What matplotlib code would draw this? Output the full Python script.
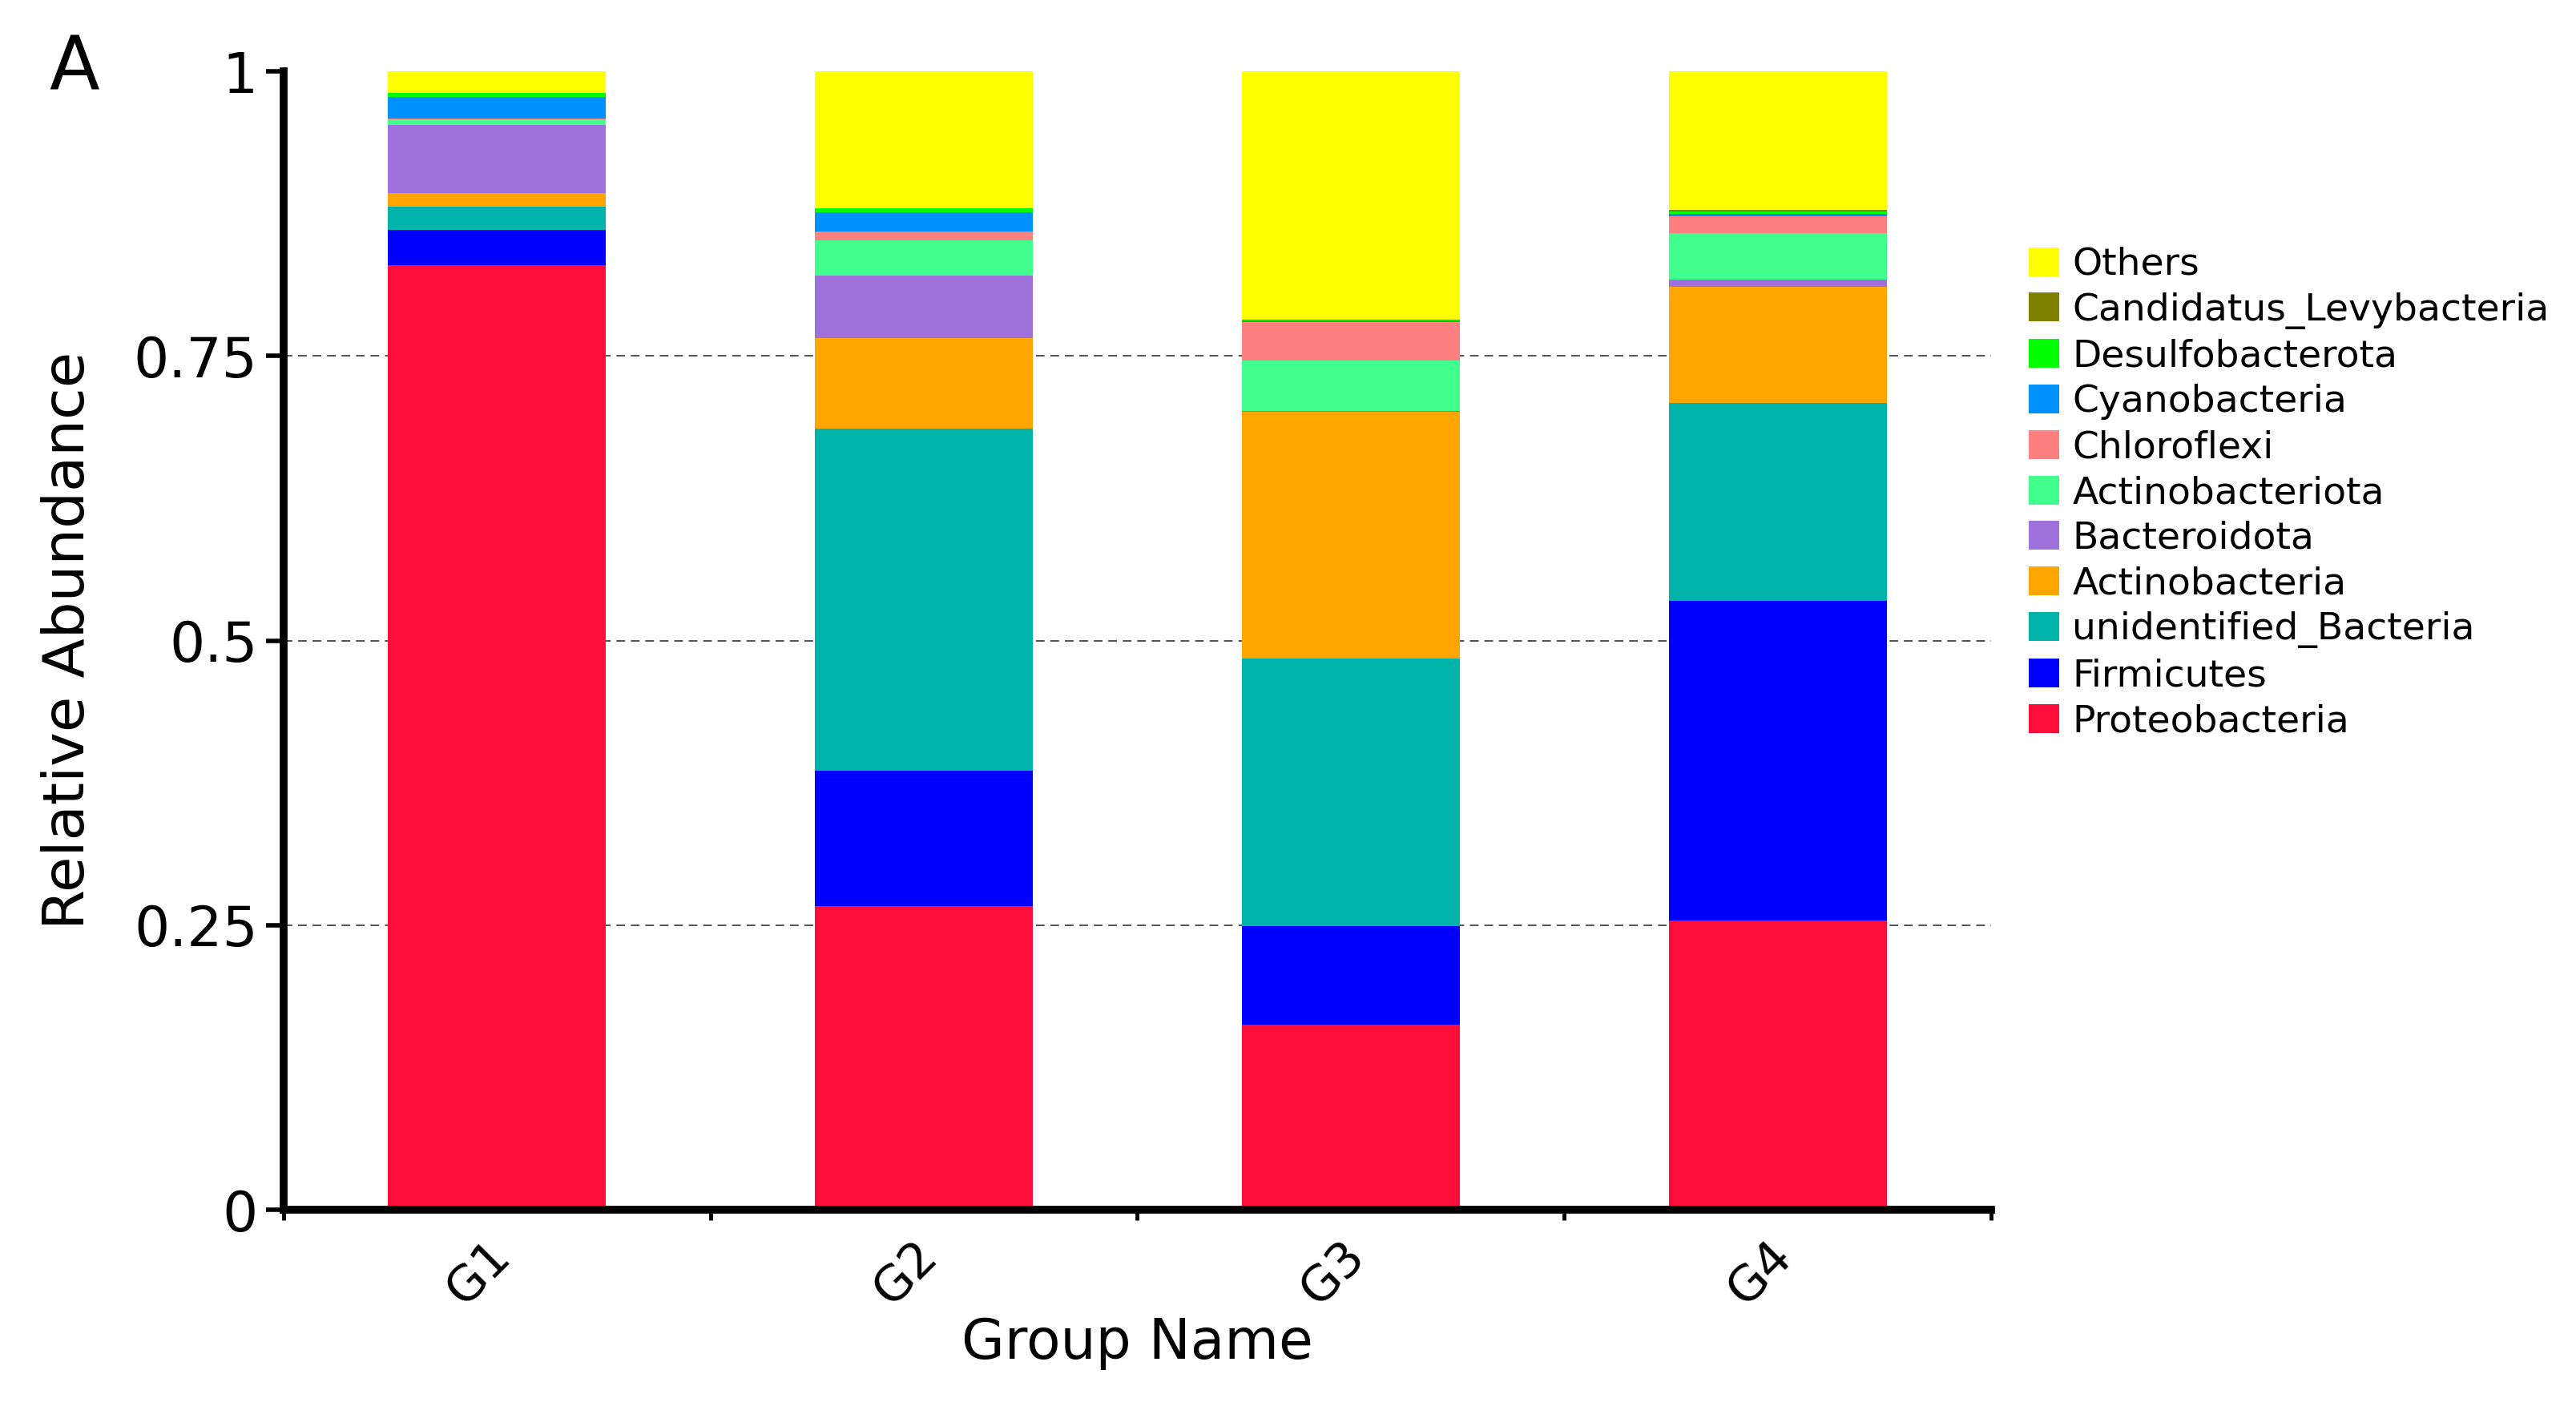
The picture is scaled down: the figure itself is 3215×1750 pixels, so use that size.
import numpy as np
import matplotlib.pyplot as plt
from matplotlib.patches import Patch
import matplotlib.transforms as mtransforms

groups = ["G1", "G2", "G3", "G4"]

# stacking order, bottom to top
taxa = ["Proteobacteria", "Firmicutes", "unidentified_Bacteria", "Actinobacteria",
        "Bacteroidota", "Actinobacteriota", "Chloroflexi", "Cyanobacteria",
        "Desulfobacterota", "Candidatus_Levybacteria", "Others"]

proteobacteria = [0.830, 0.267, 0.163, 0.254]
firmicutes = [0.031, 0.119, 0.086, 0.281]
unidentified_bacteria = [0.020, 0.300, 0.235, 0.174]
actinobacteria = [0.012, 0.080, 0.217, 0.102]
bacteroidota = [0.060, 0.055, 0.001, 0.006]
actinobacteriota = [0.005, 0.031, 0.044, 0.041]
chloroflexi = [0.001, 0.0075, 0.034, 0.015]
cyanobacteria = [0.019, 0.0165, 0.0005, 0.002]
desulfobacterota = [0.003, 0.0035, 0.0005, 0.002]
candidatus_levybacteria = [0.0005, 0.0005, 0.001, 0.0015]
others = [0.0185, 0.120, 0.218, 0.1215]

values = [proteobacteria, firmicutes, unidentified_bacteria, actinobacteria,
          bacteroidota, actinobacteriota, chloroflexi, cyanobacteria,
          desulfobacterota, candidatus_levybacteria, others]

colors = ["#FF0D3A", "#0000FF", "#00B3AA", "#FFA500", "#9E71DD", "#40FF8C",
          "#FF8080", "#0091FF", "#00FF00", "#808000", "#FFFF00"]

fig = plt.figure(figsize=(32.15, 17.5), dpi=100)
ax = fig.add_axes([0.110, 0.137, 0.663, 0.812])

x = np.arange(len(groups))
bottom = np.zeros(len(groups))
for name, vals, c in zip(taxa, values, colors):
    ax.bar(x, vals, width=0.51, bottom=bottom, color=c, edgecolor='none', zorder=2)
    bottom += np.array(vals)

# dashed reference lines
for yv in [0.25, 0.5, 0.75]:
    ax.axhline(yv, color='#444444', linestyle=(0, (6, 4)), linewidth=1.3, zorder=1)

ax.set_xlim(-0.5, 3.5)
ax.set_ylim(0, 1)
ax.set_yticks([0, 0.25, 0.5, 0.75, 1])
ax.set_yticklabels(["0", "0.25", "0.5", "0.75", "1"])
ax.set_xticks(x)
ax.set_xticklabels(groups, rotation=45, ha='center', fontsize=44)
ax.set_xticks(np.arange(-0.5, 4, 1), minor=True)

ax.tick_params(axis='x', which='major', length=0, pad=20)
ax.tick_params(axis='x', which='minor', length=9, width=3.5, direction='out')
ax.tick_params(axis='y', length=16, width=4, labelsize=50, pad=7)

offset = mtransforms.ScaledTranslation(-22 / 100, 0, fig.dpi_scale_trans)
for lbl in ax.get_xticklabels():
    lbl.set_transform(lbl.get_transform() + offset)

for s in ['top', 'right']:
    ax.spines[s].set_visible(False)
for s in ['left', 'bottom']:
    ax.spines[s].set_linewidth(7)

ax.set_ylabel("Relative Abundance", fontsize=52, labelpad=34)
ax.set_xlabel("Group Name", fontsize=50, labelpad=2)

fig.text(0.019, 0.977, "A", fontsize=66, va='top', ha='left')

handles = [Patch(facecolor=c, edgecolor='none') for c in colors][::-1]
fig.legend(handles, taxa[::-1], loc='upper left', bbox_to_anchor=(2532 / 3215, 1 - 308 / 1750),
           frameon=False, fontsize=34, handlelength=0.8, handleheight=0.8,
           handletextpad=0.35, labelspacing=0.25, borderpad=0, borderaxespad=0)

fig.savefig("out.png", dpi=100)
